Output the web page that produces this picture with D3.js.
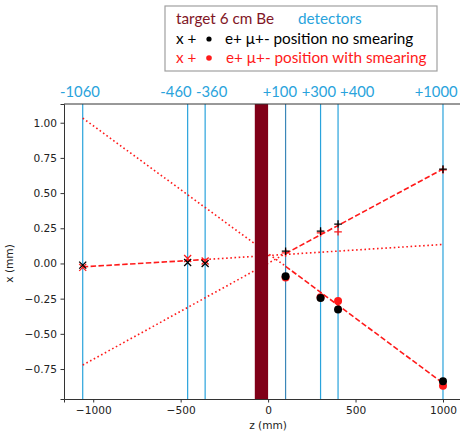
<!DOCTYPE html>
<html>
<head>
<meta charset="utf-8">
<script src="https://cdn.jsdelivr.net/npm/d3@7"></script>
<style>
  body { margin: 0; background: #fff; }
  svg { display: block; }
</style>
</head>
<body>
<div id="chart-container"></div>
<script>
// detector planes (z in mm) and their labels on top
const detectors = [-1060, -460, -360, 100, 300, 400, 1000];
const detectorLabels = ["-1060", "-460", "-360", "+100", "+300", "+400", "+1000"];
const labelCenters = [-1076, -527, -323, 67, 290, 510, 961];

// target block
const target = [-76, 0];

// fitted tracks: dashed part and dotted extrapolation, as [z, x]
const leftDashed = [[-1060, -0.024], [-360, 0.028]];
const leftDotted = [[-360, 0.028], [1000, 0.135]];
const upDashed = [[100, 0.07], [1000, 0.671]];
const upDotted = [[-1060, -0.722], [100, 0.07]];
const lowDashed = [[100, -0.02], [1000, -0.85]];
const lowDotted = [[-1060, 1.033], [100, -0.02]];

// hits without smearing (black)
const crossZ = [-1060, -460, -360];
const crossX = [-0.012, 0.007, 0.0];
const plusZ = [100, 300, 400, 1000];
const plusX = [0.087, 0.23, 0.28, 0.67];
const dotZ = [100, 300, 400, 1000];
const dotX = [-0.09, -0.245, -0.327, -0.837];

// hits with smearing (red)
const crossXs = [-0.028, 0.035, 0.018];
const plusXs = [0.075, 0.218, 0.225, 0.665];
const dotXs = [-0.10, -0.24, -0.266, -0.868];

const xTicks = [-1000, -500, 0, 500, 1000];
const yTicks = [-0.75, -0.5, -0.25, 0, 0.25, 0.5, 0.75, 1.0];

const W = 460, H = 433;
const margin = { top: 104, right: -1, bottom: 34, left: 64 };
const width = W - margin.left - margin.right;
const height = H - margin.top - margin.bottom;

const svg = d3.select("#chart-container")
    .append("svg")
    .attr("width", W)
    .attr("height", H);

const g = svg.append("g")
    .attr("transform", `translate(${margin.left},${margin.top})`);

const xScale = d3.scaleLinear().domain([-1167, 1103]).range([0, width]);
const yScale = d3.scaleLinear().domain([-0.963, 1.133]).range([height, 0]);

const RED = "#ff1a1a";
const BLUE = "#29a3dc";
const fmtMinus = s => s.replace("-", "\u2212");

// detector lines
g.selectAll(".det")
    .data(detectors)
    .enter()
    .append("line")
    .attr("x1", d => xScale(d))
    .attr("x2", d => xScale(d))
    .attr("y1", 0)
    .attr("y2", height)
    .attr("stroke", (d, i) => i === 3 ? "#3b87b8" : BLUE)
    .attr("stroke-width", 1.2);

// tracks
const line = d3.line().x(d => xScale(d[0])).y(d => yScale(d[1]));
[leftDashed, upDashed, lowDashed].forEach(seg => {
    g.append("path")
        .attr("d", line(seg))
        .attr("fill", "none")
        .attr("stroke", RED)
        .attr("stroke-width", 1.6)
        .attr("stroke-dasharray", "5.5,2.4");
});
[leftDotted, upDotted, lowDotted].forEach(seg => {
    g.append("path")
        .attr("d", line(seg))
        .attr("fill", "none")
        .attr("stroke", RED)
        .attr("stroke-width", 1.6)
        .attr("stroke-dasharray", "1.6,2.6");
});

// target
g.append("rect")
    .attr("x", xScale(target[0]))
    .attr("width", xScale(target[1]) - xScale(target[0]))
    .attr("y", 0)
    .attr("height", height)
    .attr("fill", "#800018");

// markers
function drawHits(color, cx, px, dx) {
    crossZ.forEach((z, i) => {
        const x = xScale(z), y = yScale(cx[i]), s = 3.5;
        g.append("path")
            .attr("d", `M${x - s},${y - s}L${x + s},${y + s}M${x - s},${y + s}L${x + s},${y - s}`)
            .attr("stroke", color).attr("stroke-width", 1.3);
    });
    plusZ.forEach((z, i) => {
        const x = xScale(z), y = yScale(px[i]), s = 3.8;
        g.append("path")
            .attr("d", `M${x - s},${y}L${x + s},${y}M${x},${y - s}L${x},${y + s}`)
            .attr("stroke", color).attr("stroke-width", 1.3);
    });
    g.selectAll(null)
        .data(dotZ)
        .enter()
        .append("circle")
        .attr("cx", d => xScale(d))
        .attr("cy", (d, i) => yScale(dx[i]))
        .attr("r", 4)
        .attr("fill", color);
}
drawHits(RED, crossXs, plusXs, dotXs);
drawHits("#000", crossX, plusX, dotX);

// axes
const xAxis = g.append("g")
    .attr("transform", `translate(0,${height})`)
    .call(d3.axisBottom(xScale).tickValues(xTicks).tickSize(3.5).tickPadding(3.5)
        .tickFormat(d => fmtMinus(d3.format("d")(d))));
const yAxis = g.append("g")
    .call(d3.axisLeft(yScale).tickValues(yTicks).tickSize(3.5).tickPadding(3.5)
        .tickFormat(d => fmtMinus(d3.format(".2f")(d))));
[xAxis, yAxis].forEach(a => {
    a.select(".domain").attr("stroke", "#333").attr("stroke-width", 1);
    a.selectAll(".tick line").attr("stroke", "#333");
    a.selectAll(".tick text")
        .attr("fill", "#222")
        .style("font-family", "DejaVu Sans")
        .style("font-size", "10.6px");
});
// top spine
g.append("line")
    .attr("x1", 0).attr("x2", width)
    .attr("y1", 0).attr("y2", 0)
    .attr("stroke", "#333");

// axis labels
g.append("text")
    .attr("x", xScale(0))
    .attr("y", height + 30)
    .attr("text-anchor", "middle")
    .style("font-family", "DejaVu Sans")
    .style("font-size", "10.6px")
    .attr("fill", "#222")
    .text("z (mm)");
g.append("text")
    .attr("transform", "rotate(-90)")
    .attr("x", -yScale(0))
    .attr("y", -51)
    .attr("text-anchor", "middle")
    .style("font-family", "DejaVu Sans")
    .style("font-size", "10.6px")
    .attr("fill", "#222")
    .text("x (mm)");

// detector labels above the plot
g.selectAll(".dlab")
    .data(detectorLabels)
    .enter()
    .append("text")
    .attr("x", (d, i) => xScale(labelCenters[i]))
    .attr("y", -7)
    .attr("text-anchor", "middle")
    .style("font-family", "Lato")
    .style("font-size", "14.8px")
    .attr("fill", BLUE)
    .text(d => d);

// legend box
const lg = svg.append("g").attr("transform", "translate(165,6)");
lg.append("rect")
    .attr("width", 272).attr("height", 65)
    .attr("fill", "#fff")
    .attr("stroke", "#a0a0a0")
    .attr("stroke-width", 1.2);
const lfont = t => t.style("font-family", "Lato").style("font-size", "15.3px");
lg.append("text").attr("x", 11).attr("y", 18).attr("fill", "#7f1626").call(lfont)
    .text("target  6 cm Be");
lg.append("text").attr("x", 133).attr("y", 18).attr("fill", BLUE).call(lfont)
    .text("detectors");
lg.append("text").attr("x", 11).attr("y", 38).attr("fill", "#000").call(lfont)
    .text("x  +");
lg.append("circle").attr("cx", 44).attr("cy", 33).attr("r", 2.6).attr("fill", "#000");
lg.append("text").attr("x", 60).attr("y", 38).attr("fill", "#000").call(lfont)
    .text("e+ \u03bc+- position no smearing");
lg.append("text").attr("x", 11).attr("y", 57).attr("fill", RED).call(lfont)
    .text("x  +");
lg.append("circle").attr("cx", 44).attr("cy", 52).attr("r", 2.8).attr("fill", RED);
lg.append("text").attr("x", 61).attr("y", 57).attr("fill", RED).call(lfont)
    .text("e+ \u03bc+- position with smearing");
</script>
</body>
</html>
